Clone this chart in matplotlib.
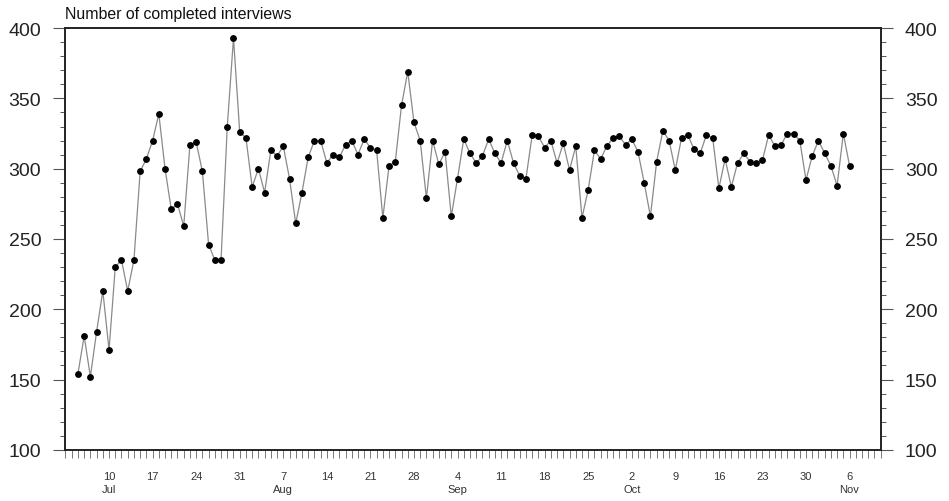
import numpy as np
import pandas as pd
import matplotlib
matplotlib.use("Agg")
import matplotlib.pyplot as plt
import matplotlib.dates as mdates
from matplotlib.ticker import MultipleLocator

plt.rcParams['font.family'] = ['Liberation Sans', 'DejaVu Sans']

# daily counts, 5 Jul to 6 Nov
start = "2003-07-05"
interviews = [154, 181, 152, 184, 213, 171, 230, 235, 213, 235,
              298, 307, 320, 339, 300, 271, 275, 259, 317, 319,
              298, 246, 235, 235, 330, 393, 326, 322, 287, 300,
              283, 313, 309, 316, 293,
              261, 283, 308, 320, 320, 304, 310, 308, 317, 320,
              310, 321, 315, 313, 265, 302, 305, 345, 369, 333,
              320, 279, 320, 303, 312, 266, 293, 321, 311, 304,
              309, 321, 311, 304,
              320, 304, 295, 293, 324, 323, 315, 320, 304, 318,
              299, 316, 265, 285, 313, 307, 316, 322, 323, 317, 321,
              312, 290, 266, 305, 327, 320, 299, 322, 324, 314,
              311, 324, 322, 286, 307, 287, 304, 311, 305, 304,
              306, 324, 316, 317, 325, 325, 320, 292, 309, 320,
              311, 302, 288, 325, 302]
dates = pd.date_range(start, periods=len(interviews), freq="D")

tick_dates = pd.to_datetime(["2003-07-10", "2003-07-17", "2003-07-24", "2003-07-31",
                             "2003-08-07", "2003-08-14", "2003-08-21", "2003-08-28",
                             "2003-09-04", "2003-09-11", "2003-09-18", "2003-09-25",
                             "2003-10-02", "2003-10-09", "2003-10-16", "2003-10-23",
                             "2003-10-30", "2003-11-06"])
tick_labels = ["10\nJul", "17", "24", "31", "7\nAug", "14", "21", "28",
               "4\nSep", "11", "18", "25", "2\nOct", "9", "16", "23", "30", "6\nNov"]

fig = plt.figure(figsize=(9.49, 5.02), dpi=100)
ax = fig.add_axes([0.069, 0.102, 0.859, 0.840])

ax.plot(dates, interviews, color="#8a8a8a", lw=0.9, zorder=2)
ax.plot(dates, interviews, "o", color="black", ms=3.9, zorder=3)

ax.set_xlim(pd.Timestamp("2003-07-03"), pd.Timestamp("2003-11-11"))
ax.set_ylim(100, 400)

ax.set_xticks(tick_dates)
ax.set_xticklabels(tick_labels, fontsize=8, color="#333333", linespacing=1.45)
ax.xaxis.set_minor_locator(mdates.DayLocator())
ax.tick_params(axis="x", which="both", direction="out", length=6, width=0.7,
               color="#777777", pad=9)

ax.yaxis.set_major_locator(MultipleLocator(50))
ax.yaxis.set_minor_locator(MultipleLocator(10))
ax.tick_params(axis="y", which="major", direction="out", length=8.5, width=0.8,
               labelsize=14, pad=9, left=True, right=True,
               labelleft=True, labelright=True, labelcolor="#222222", color="#555555")
ax.tick_params(axis="y", which="minor", direction="out", length=3.6, width=0.7,
               left=True, right=True, color="#555555")

for s in ax.spines.values():
    s.set_linewidth(1.4)
    s.set_color("#222222")

ax.text(0.0, 1.018, "Number of completed interviews", transform=ax.transAxes,
        ha="left", va="bottom", fontsize=11.4, color="#111111")

fig.savefig("out.png", dpi=100)
